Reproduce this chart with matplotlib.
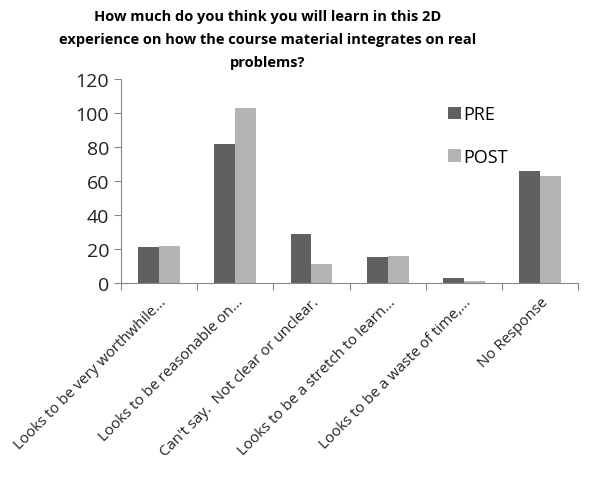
import numpy as np
import matplotlib.pyplot as plt

plt.rcParams['font.family'] = ['Open Sans', 'DejaVu Sans']

categories = ["Looks to be very worthwhile...", "Looks to be reasonable on...",
              "Can't say.  Not clear or unclear.", "Looks to be a stretch to learn...",
              "Looks to be a waste of time,...", "No Response"]
pre = [21, 82, 29, 15, 3, 66]
post = [22, 103, 11, 16, 1, 63]

fig = plt.figure(figsize=(6.08, 4.81), dpi=100)
ax = fig.add_axes([0.199, 0.4096, 0.752, 0.4241])

x = np.arange(len(categories))
w = 0.275
ax.bar(x - w / 2, pre, w, color="#606060", label="PRE")
ax.bar(x + w / 2, post, w, color="#b3b3b3", label="POST")

ax.set_xlim(-0.5, len(categories) - 0.5)
ax.set_ylim(0, 120)
ax.set_yticks(range(0, 121, 20))
ax.tick_params(axis="y", labelsize=14, length=5, color="#888888", labelcolor="#222222")

# ticks between the categories, labels at the centres
ax.set_xticks(np.arange(-0.5, len(categories)))
ax.set_xticklabels([])
ax.set_xticks(x, minor=True)
ax.set_xticklabels(categories, minor=True, rotation=45, ha="right", rotation_mode="anchor",
                   fontsize=10.8, color="#222222")
ax.tick_params(axis="x", which="major", length=5, color="#888888")
ax.tick_params(axis="x", which="minor", length=0, pad=8)

for s in ["top", "right"]:
    ax.spines[s].set_visible(False)
for s in ["left", "bottom"]:
    ax.spines[s].set_color("#888888")

ax.legend(loc="upper left", bbox_to_anchor=(0.68, 0.95), frameon=False, fontsize=13,
          handlelength=0.7, handleheight=0.7, labelspacing=1.35, handletextpad=0.15)

fig.text(0.44, 0.98, "How much do you think you will learn in this 2D\n"
         "experience on how the course material integrates on real\nproblems?",
         ha="center", va="top", fontsize=10.5, fontweight="bold", linespacing=1.85)

fig.savefig("out.png", dpi=100)
